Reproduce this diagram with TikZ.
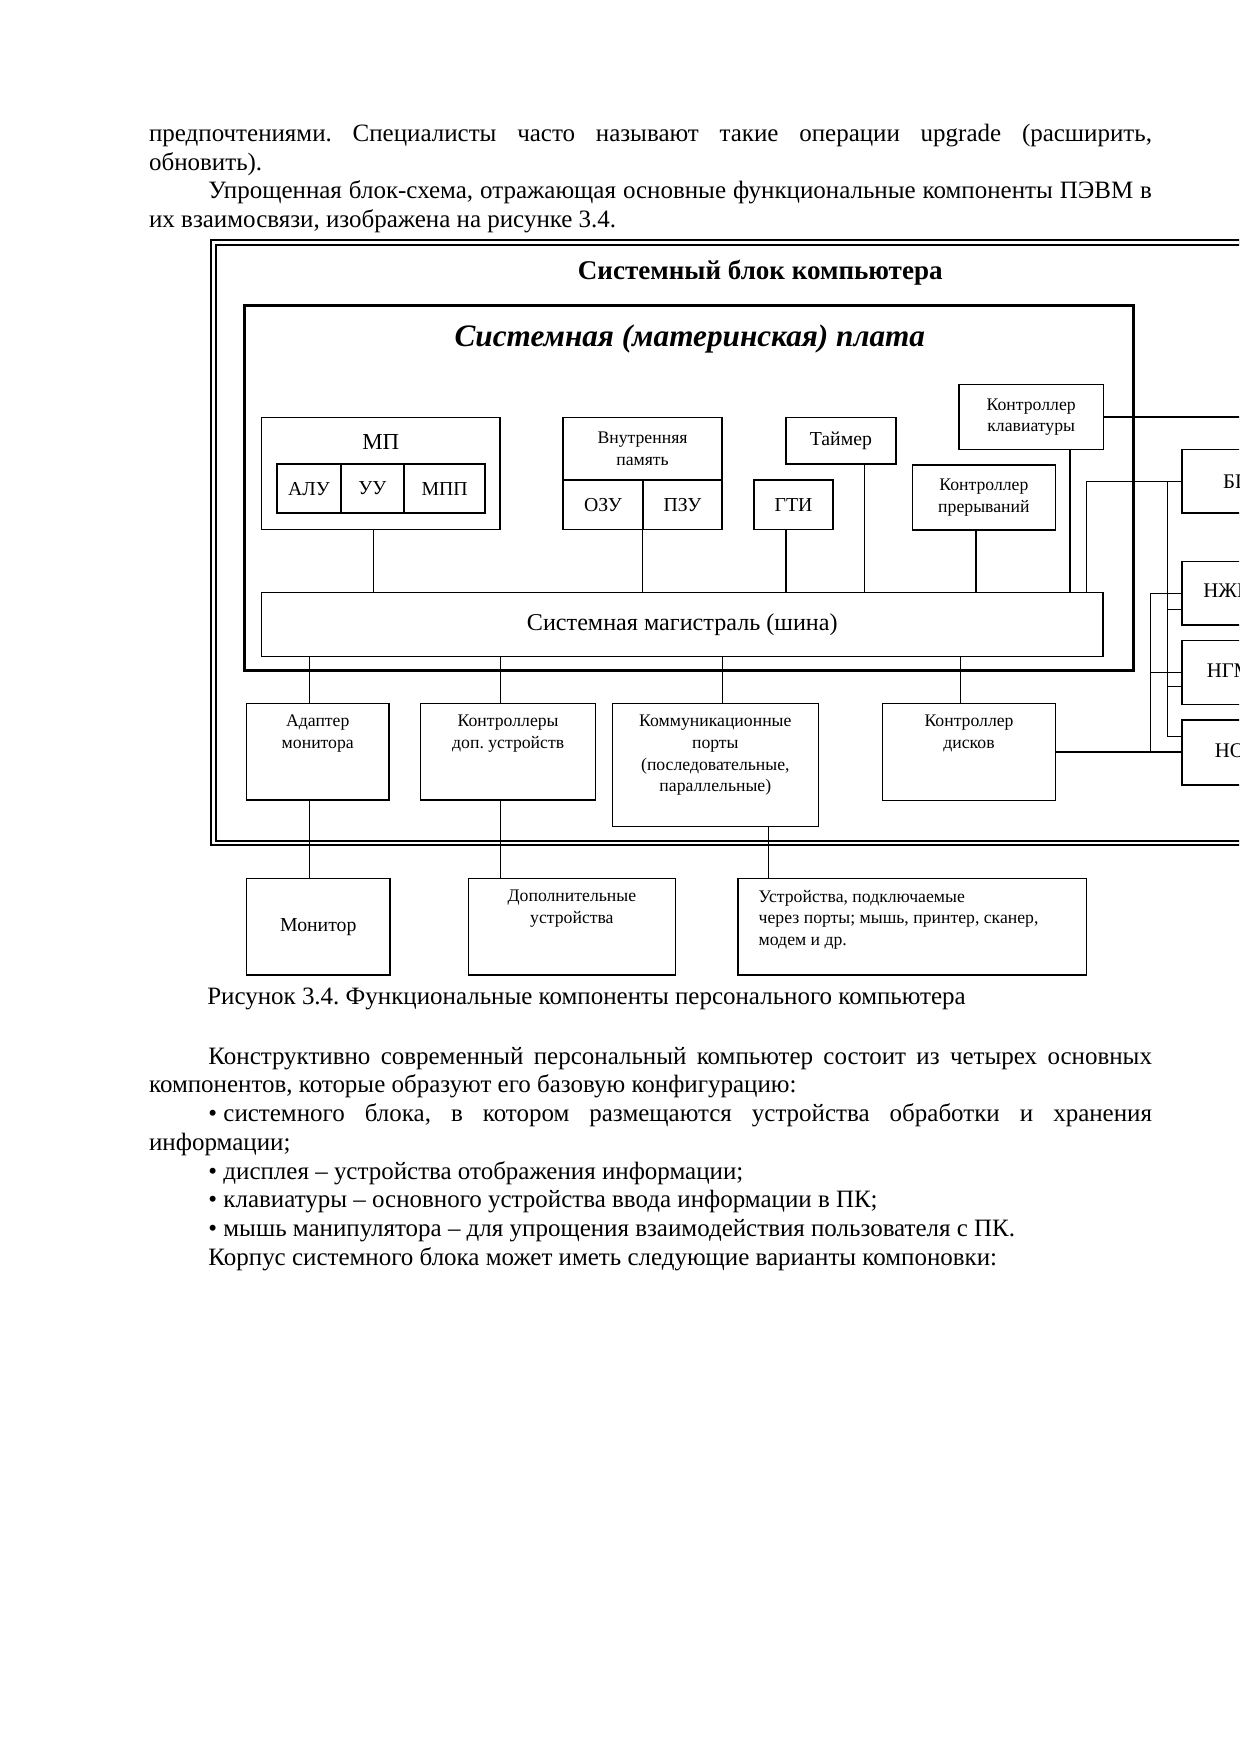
\documentclass[tikz,border=0pt]{standalone}
\usepackage{fontspec}
\setmainfont{Liberation Serif}
\usetikzlibrary{calc}
\newlength{\pu}\setlength{\pu}{0.537pt}
\newcommand{\bodyfont}{\fontsize{12}{13.8}\selectfont}
\newcommand{\boxfont}{\fontsize{8.5}{10.4}\selectfont}
\newcommand{\midfont}{\fontsize{9.5}{11}\selectfont}
\hyphenpenalty=10000
\exhyphenpenalty=10000
\frenchspacing

\tikzset{
  blk/.style={draw, line width=0.7pt, anchor=north west, inner sep=0pt, outer sep=0pt, align=center, font=\boxfont},
  toptxt/.style={label={[anchor=north, align=center, font=\boxfont, inner sep=0pt, yshift=-5.5pt]north:{#1}}},
  wire/.style={line width=0.6pt},
  para/.style={anchor=north west, inner sep=0pt, text width=897\pu, align=justify, font=\bodyfont},
}

\begin{document}
\begin{tikzpicture}[x=0.537pt, y=-0.537pt]
    \useasboundingbox (0,0) rectangle (1108.2,1568.8);
    \fill[white] (0,0) rectangle (1108.2,1568.8);
    \clip (0,0) rectangle (1108.2,1568.8);

    \node[para] (intro) at (133,108) {\parindent=28.5pt\strut предпочтениями. Специалисты часто называют такие операции upgrade (расширить,\linebreak обновить).\par
      Упрощенная блок-схема, отражающая основные функциональные компоненты ПЭВМ в\linebreak их взаимосвязи, изображена на рисунке 3.4.};

    % system block and motherboard
    \draw [line width=0.8pt, double, double distance=1.4pt] (191,217) rectangle (1250,754);
    \node[font=\fontsize{13}{15}\selectfont\bfseries] (systitle) at (680,244) {Системный блок компьютера};
    \draw [line width=1.5pt] (219,273.5) rectangle (1013.5,600);
    \node[font=\fontsize{15}{17}\selectfont\bfseries\itshape] (boardtitle) at (617,303) {Системная (материнская) плата};

    \node[blk, minimum width=213\pu, minimum height=100.2\pu,
      label={[font=\fontsize{11}{13}\selectfont, anchor=center, yshift=-22\pu]north:МП}] (mp) at (234,373.3) {};
    \node[blk, line width=1pt, minimum width=56.6\pu, minimum height=44\pu, font=\midfont] (alu) at (248,415) {АЛУ};
    \node[blk, line width=1pt, minimum width=56.8\pu, minimum height=44\pu, font=\midfont] (uu) at (alu.north east) {УУ};
    \node[blk, line width=1pt, minimum width=72.6\pu, minimum height=44\pu, font=\midfont] (mpp) at (uu.north east) {МПП};

    \node[blk, minimum width=142.2\pu, minimum height=56\pu] (mem) at (503.6,373.3) {Внутренняя\\память};
    \node[blk, minimum width=71.3\pu, minimum height=44.2\pu, font=\midfont] (ozu) at (mem.south west) {ОЗУ};
    \node[blk, minimum width=70.9\pu, minimum height=44.2\pu, font=\midfont] (pzu) at (ozu.north east) {ПЗУ};

    \node[blk, minimum width=98.4\pu, minimum height=41.7\pu, font=\midfont] (timer) at (702.9,373.3) {Таймер};
    \node[blk, minimum width=70.6\pu, minimum height=44.2\pu, font=\midfont] (gti) at (674.4,429.3) {ГТИ};
    \node[blk, minimum width=128\pu, minimum height=58\pu] (irq) at (816,416) {Контроллер\\прерываний};
    \node[blk, minimum width=129.4\pu, minimum height=58\pu] (kbd) at (857.6,344) {Контроллер\\клавиатуры};

    \node[blk, minimum width=752.5\pu, minimum height=57\pu, font=\fontsize{11.6}{14}\selectfont] (bus) at (234,530) {Системная магистраль (шина)};

    \node[blk, minimum width=127.6\pu, minimum height=86.6\pu, toptxt={Адаптер\\монитора}] (adapt) at (220.4,629) {};
    \node[blk, minimum width=156.4\pu, minimum height=86.6\pu, toptxt={Контроллеры\\доп. устройств}] (ctrls) at (376.3,629) {};
    \node[blk, minimum width=184.4\pu, minimum height=110.4\pu, toptxt={Коммуникационные\\порты\\(последовательные,\\параллельные)}] (ports) at (547.6,629) {};
    \node[blk, minimum width=154.6\pu, minimum height=87\pu, toptxt={Контроллер\\дисков}] (disks) at (789.4,629) {};

    \node[blk, minimum width=98\pu, minimum height=57\pu, font=\fontsize{10}{12}\selectfont] (psu) at (1057,402) {БП};
    \node[blk, minimum width=98\pu, minimum height=57\pu, font=\fontsize{10}{12}\selectfont] (hdd) at (1057,502) {НЖМД};
    \node[blk, minimum width=98\pu, minimum height=57\pu, font=\fontsize{10}{12}\selectfont] (fdd) at (1057,573) {НГМД};
    \node[blk, minimum width=98\pu, minimum height=58\pu, font=\fontsize{10}{12}\selectfont] (cd) at (1057,644) {НОД};

    % devices outside
    \node[blk, minimum width=128.6\pu, minimum height=86.4\pu, font=\midfont] (monitor) at (220.4,785.6) {Монитор};
    \node[blk, minimum width=185\pu, minimum height=86.4\pu, toptxt={Дополнительные\\устройства}] (extra) at (419,785.6) {};
    \node[blk, minimum width=311.8\pu, minimum height=86.4\pu,
      label={[anchor=north west, align=left, font=\boxfont, inner sep=0pt, xshift=18\pu, yshift=-5.5pt]north west:{Устройства, подключаемые\\через порты; мышь, принтер, сканер,\\модем и др.}}] (devs) at (660.2,785.6) {};

    \coordinate (xmp) at (334,0);
    \coordinate (xgti) at (703,0);
    \coordinate (xtim) at (773.5,0);
    \coordinate (xirq) at (873,0);
    \coordinate (xkbd) at (957,0);
    \coordinate (xpow) at (972,0);
    \coordinate (xadp) at (277,0);
    \coordinate (xctl) at (447.4,0);
    \coordinate (xprt) at (646,0);
    \coordinate (xdev) at (687.5,0);
    \coordinate (xdsk) at (859,0);
    \coordinate (xdat) at (1029,0);
    \coordinate (xsup) at (1044,0);

    \draw [wire] (xmp |- mp.south) -- (xmp |- bus.north);
    \draw [wire] (ozu.south east) -- (ozu.south east |- bus.north);
    \draw [wire] (xgti |- gti.south) -- (xgti |- bus.north);
    \draw [wire] (xtim |- timer.south) -- (xtim |- bus.north);
    \draw [wire] (xirq |- irq.south) -- (xirq |- bus.north);
    \draw [wire] (xkbd |- kbd.south) -- (xkbd |- bus.north);
    \draw [wire] (kbd.east) -- ++(300,0);
    \draw [wire] (xpow |- bus.north) |- (psu.west);

    \draw [wire] (xadp |- bus.south) -- (xadp |- adapt.north);
    \draw [wire] (xctl |- bus.south) -- (xctl |- ctrls.north);
    \draw [wire] (xprt |- bus.south) -- (xprt |- ports.north);
    \draw [wire] (xdsk |- bus.south) -- (xdsk |- disks.north);
    \draw [wire] (xadp |- adapt.south) -- (xadp |- monitor.north);
    \draw [wire] (xctl |- ctrls.south) -- (xctl |- extra.north);
    \draw [wire] (xdev |- ports.south) -- (xdev |- devs.north);

    % drives: data and supply
    \draw [wire] (disks.east) -- (disks.east -| cd.west);
    \draw [wire] (hdd.west) -| (xdat |- disks.east);
    \draw [wire] (fdd.west) -- (xdat |- fdd.west);
    \coordinate (hddp) at ([yshift=-14.5\pu]hdd.west);
    \coordinate (fddp) at ([yshift=-12.5\pu]fdd.west);
    \coordinate (cdp) at ([yshift=14\pu]cd.west);
    \draw [wire] (xsup |- psu.west) |- (cdp);
    \draw [wire] (hddp) -- (xsup |- hddp);
    \draw [wire] (fddp) -- (xsup |- fddp);

    \node[anchor=base west, inner sep=0pt, font=\bodyfont] (caption) at (185,898.5) {Рисунок 3.4. Функциональные компоненты персонального компьютера};

    \node[para] (body) at (133,933.5) {\parindent=28.5pt\hspace*{28.5pt}\strut Конструктивно современный персональный компьютер состоит из четырех основных\linebreak компонентов, которые образуют его базовую конфигурацию:\par
      \mbox{• системного} блока, в котором размещаются устройства обработки и хранения\linebreak информации;\par
      • дисплея – устройства отображения информации;\par
      • клавиатуры – основного устройства ввода информации в ПК;\par
      • мышь манипулятора – для упрощения взаимодействия пользователя с ПК.\par
      Корпус системного блока может иметь следующие варианты компоновки:};
\end{tikzpicture}
\end{document}
